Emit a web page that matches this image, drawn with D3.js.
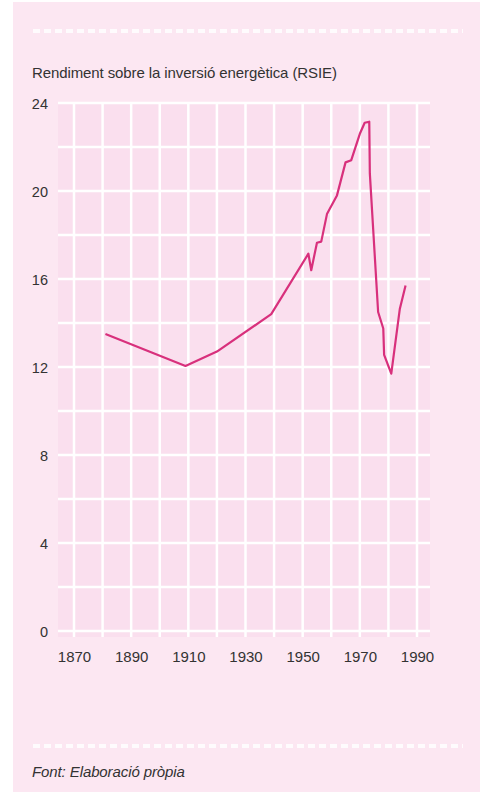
<!DOCTYPE html>
<html>
<head>
<meta charset="utf-8">
<script src="https://cdn.jsdelivr.net/npm/d3@7/dist/d3.min.js"></script>
<style>
  html, body { margin: 0; padding: 0; background: #ffffff; }
  svg { display: block; }
  text { font-family: "Liberation Sans", Arial, Helvetica, sans-serif; fill: #333333; }
</style>
</head>
<body>
<svg id="chart" width="487" height="792"></svg>
<script>
// Return on energy investment (RSIE) by year
const years = [1881, 1909, 1920, 1939, 1952, 1953, 1955, 1956.5, 1958.5, 1962, 1965, 1967, 1970, 1971.7, 1973.3, 1973.5, 1976.4, 1978.2, 1978.5, 1981, 1984, 1986];
const rsie  = [13.5, 12.05, 12.7, 14.4, 17.15, 16.4, 17.65, 17.7, 18.95, 19.8, 21.3, 21.4, 22.6, 23.1, 23.15, 20.8, 14.5, 13.75, 12.55, 11.7, 14.65, 15.7];

const xTicks = [1870, 1890, 1910, 1930, 1950, 1970, 1990];
const yTicks = [0, 4, 8, 12, 16, 20, 24];
const xGrid = d3.range(1870, 1991, 10);
const yGrid = d3.range(0, 25, 2);

const title = "Rendiment sobre la inversió energètica (RSIE)";
const source = "Font: Elaboració pròpia";

const svg = d3.select("#chart");

// panel background
svg.append("rect")
  .attr("x", 13).attr("y", 2).attr("width", 467).attr("height", 790)
  .attr("fill", "#fce7f2");

// dashed separators
[31, 746].forEach(yy => {
  svg.append("line")
    .attr("x1", 33).attr("x2", 463).attr("y1", yy).attr("y2", yy)
    .attr("stroke", "#ffffff").attr("stroke-width", 4)
    .attr("stroke-dasharray", "7,4").attr("opacity", 0.85);
});

const x = d3.scaleLinear().domain([1870, 1990]).range([74, 417]);
const y = d3.scaleLinear().domain([0, 24]).range([631, 103]);

// plot area tint
svg.append("rect")
  .attr("x", 58).attr("y", y(24)).attr("width", 372).attr("height", y(0) - y(24) + 6)
  .attr("fill", "#fadfee");

// grid
const grid = svg.append("g");
grid.selectAll("line.h").data(yGrid).join("line")
  .attr("class", "h")
  .attr("x1", 58).attr("x2", 430)
  .attr("y1", d => y(d)).attr("y2", d => y(d))
  .attr("stroke", "#ffffff").attr("stroke-width", 2.5);
grid.selectAll("line.v").data(xGrid).join("line")
  .attr("class", "v")
  .attr("x1", d => x(d)).attr("x2", d => x(d))
  .attr("y1", y(24)).attr("y2", y(0) + 6)
  .attr("stroke", "#ffffff").attr("stroke-width", 2.5);

// y axis labels
const yAxis = d3.axisLeft(y).tickValues(yTicks).tickSize(0).tickPadding(0);
const gy = svg.append("g").attr("transform", "translate(48,0)").call(yAxis);
gy.select(".domain").remove();
gy.selectAll("text").attr("font-size", 14.5).attr("fill", "#333").attr("dy", "0.36em")
  .attr("font-family", "Liberation Sans, Arial, sans-serif");

// x axis labels
const xAxis = d3.axisBottom(x).tickValues(xTicks).tickFormat(d3.format("d")).tickSize(0).tickPadding(0);
const gx = svg.append("g").attr("transform", "translate(0,662)").call(xAxis);
gx.select(".domain").remove();
gx.selectAll("text").attr("font-size", 15).attr("fill", "#333").attr("dy", "0")
  .attr("font-family", "Liberation Sans, Arial, sans-serif");

// data line
const pts = years.map((yr, i) => [yr, rsie[i]]);
svg.append("path")
  .datum(pts)
  .attr("fill", "none")
  .attr("stroke", "#d8307c")
  .attr("stroke-width", 2.2)
  .attr("stroke-linejoin", "round")
  .attr("d", d3.line().x(d => x(d[0])).y(d => y(d[1])));

// title and source
svg.append("text").attr("x", 32).attr("y", 78)
  .attr("font-size", 15).attr("letter-spacing", -0.1).text(title);
svg.append("text").attr("x", 32).attr("y", 777)
  .attr("font-size", 15).attr("font-style", "italic").attr("letter-spacing", -0.1).text(source);
</script>
</body>
</html>
